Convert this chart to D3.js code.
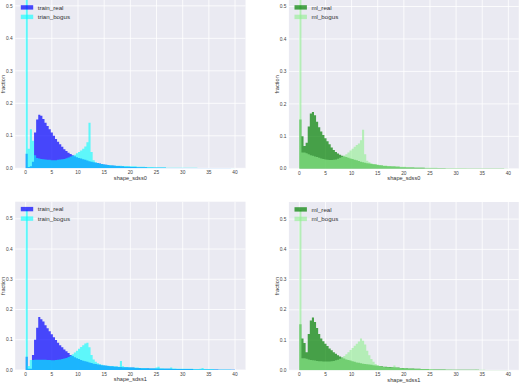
<!DOCTYPE html>
<html>
<head>
<meta charset="utf-8">
<script src="https://cdn.jsdelivr.net/npm/d3@7"></script>
<style>
  body { margin: 0; background: #fff; }
  svg { display: block; font-family: 'Liberation Sans', Arial, sans-serif; }
</style>
</head>
<body>
<div id="chart"></div>
<script>
// histogram bins: 100 bins of 0.4 from 0 to 40
const binWidth = 0.4;
const xTicks = [0, 5, 10, 15, 20, 25, 30, 35, 40];
const yTicks = [0, 0.1, 0.2, 0.3, 0.4, 0.5];

// shape_sdss0 - train set
const trainReal0 = [
  0.045, 0.004, 0.006, 0.02, 0.11, 0.15, 0.165, 0.162, 0.152, 0.14,
  0.13, 0.12, 0.11, 0.1, 0.09, 0.082, 0.074, 0.066, 0.059, 0.053,
  0.048, 0.044, 0.04, 0.037, 0.034, 0.032, 0.03, 0.028, 0.026, 0.024,
  0.022, 0.02, 0.019, 0.017, 0.016, 0.015, 0.013, 0.012, 0.011, 0.01,
  0.009, 0.009, 0.008, 0.007, 0.007, 0.006, 0.006, 0.005, 0.005, 0.005,
  0.004, 0.004, 0.004, 0.003, 0.003, 0.003, 0.003, 0.003, 0.002, 0.002,
  0.002, 0.002, 0.002, 0.002, 0.002, 0.002, 0.002, 0.001, 0.001, 0.001,
  0.001, 0.001, 0.001, 0.001, 0.001, 0.001, 0.001, 0.001, 0.001, 0.001,
  0.001, 0.001, 0.001, 0.001, 0.001, 0.001, 0.001, 0.001, 0.001, 0.001,
  0.001, 0.001, 0.001, 0.001, 0.001, 0.001, 0.001, 0.001, 0.0005, 0.0005,
];
const trainBogus0 = [
  0.53, 0.06, 0.12, 0.085, 0.04, 0.032, 0.03, 0.029, 0.028, 0.027,
  0.026, 0.026, 0.025, 0.025, 0.025, 0.026, 0.027, 0.028, 0.029, 0.031,
  0.033, 0.036, 0.039, 0.042, 0.046, 0.05, 0.055, 0.06, 0.067, 0.08,
  0.14, 0.05, 0.025, 0.019, 0.016, 0.014, 0.013, 0.012, 0.011, 0.01,
  0.01, 0.009, 0.009, 0.008, 0.008, 0.008, 0.007, 0.007, 0.007, 0.006,
  0.006, 0.006, 0.006, 0.005, 0.005, 0.005, 0.005, 0.004, 0.004, 0.004,
  0.004, 0.003, 0.003, 0.003, 0.003, 0.003, 0.003, 0.002, 0.002, 0.002,
  0.002, 0.002, 0.002, 0.002, 0.002, 0.002, 0.002, 0.002, 0.002, 0.002,
  0.002, 0.002, 0.001, 0.001, 0.001, 0.001, 0.001, 0.001, 0.001, 0.001,
  0.001, 0.001, 0.001, 0.001, 0.001, 0.001, 0.001, 0.001, 0.001, 0.001,
];

// shape_sdss0 - ml set
const mlReal0 = [
  0.152, 0.1, 0.07, 0.08, 0.13, 0.17, 0.175, 0.165, 0.145, 0.128,
  0.115, 0.104, 0.094, 0.085, 0.076, 0.066, 0.058, 0.052, 0.047, 0.043,
  0.04, 0.038, 0.036, 0.034, 0.032, 0.03, 0.028, 0.026, 0.024, 0.022,
  0.02, 0.019, 0.017, 0.016, 0.015, 0.014, 0.013, 0.012, 0.011, 0.01,
  0.009, 0.009, 0.008, 0.008, 0.007, 0.007, 0.006, 0.006, 0.005, 0.005,
  0.005, 0.004, 0.004, 0.004, 0.004, 0.003, 0.003, 0.003, 0.003, 0.003,
  0.002, 0.002, 0.002, 0.002, 0.002, 0.002, 0.002, 0.002, 0.002, 0.002,
  0.001, 0.001, 0.001, 0.001, 0.001, 0.001, 0.001, 0.001, 0.001, 0.001,
  0.001, 0.001, 0.001, 0.001, 0.001, 0.001, 0.001, 0.001, 0.001, 0.001,
  0.001, 0.001, 0.001, 0.001, 0.001, 0.001, 0.001, 0.001, 0.0005, 0.0005,
];
const mlBogus0 = [
  0.53, 0.05, 0.05, 0.048, 0.045, 0.042, 0.04, 0.038, 0.036, 0.034,
  0.032, 0.03, 0.029, 0.028, 0.027, 0.027, 0.028, 0.029, 0.031, 0.034,
  0.037, 0.041, 0.045, 0.05, 0.056, 0.062, 0.068, 0.073, 0.078, 0.088,
  0.12, 0.045, 0.025, 0.02, 0.017, 0.015, 0.014, 0.013, 0.012, 0.011,
  0.01, 0.01, 0.009, 0.009, 0.008, 0.008, 0.007, 0.007, 0.006, 0.006,
  0.006, 0.005, 0.005, 0.005, 0.005, 0.004, 0.004, 0.004, 0.004, 0.003,
  0.003, 0.003, 0.003, 0.003, 0.003, 0.003, 0.002, 0.002, 0.002, 0.002,
  0.002, 0.002, 0.002, 0.002, 0.002, 0.002, 0.002, 0.002, 0.002, 0.002,
  0.001, 0.001, 0.001, 0.001, 0.001, 0.001, 0.001, 0.001, 0.001, 0.001,
  0.001, 0.001, 0.001, 0.001, 0.001, 0.001, 0.001, 0.001, 0.001, 0.001,
];

// shape_sdss1 - train set
const trainReal1 = [
  0.044, 0.004, 0.004, 0.05, 0.1, 0.14, 0.175, 0.168, 0.16, 0.148,
  0.138, 0.128, 0.118, 0.108, 0.099, 0.09, 0.082, 0.075, 0.068, 0.062,
  0.056, 0.05, 0.046, 0.042, 0.039, 0.036, 0.033, 0.031, 0.029, 0.027,
  0.025, 0.023, 0.021, 0.02, 0.018, 0.017, 0.016, 0.015, 0.014, 0.013,
  0.012, 0.012, 0.011, 0.011, 0.01, 0.01, 0.009, 0.009, 0.009, 0.008,
  0.008, 0.008, 0.007, 0.007, 0.007, 0.006, 0.006, 0.006, 0.006, 0.005,
  0.005, 0.005, 0.005, 0.005, 0.004, 0.004, 0.004, 0.004, 0.004, 0.004,
  0.003, 0.003, 0.003, 0.003, 0.003, 0.003, 0.003, 0.003, 0.003, 0.003,
  0.002, 0.002, 0.002, 0.002, 0.002, 0.002, 0.002, 0.002, 0.002, 0.002,
  0.002, 0.002, 0.001, 0.001, 0.001, 0.001, 0.001, 0.001, 0.001, 0.001,
];
const trainBogus1 = [
  0.53, 0.013, 0.033, 0.033, 0.034, 0.034, 0.034, 0.034, 0.034, 0.034,
  0.033, 0.033, 0.032, 0.032, 0.033, 0.034, 0.035, 0.036, 0.038, 0.04,
  0.043, 0.047, 0.052, 0.058, 0.064, 0.07, 0.076, 0.082, 0.088, 0.09,
  0.075, 0.05, 0.035, 0.027, 0.022, 0.019, 0.017, 0.016, 0.015, 0.014,
  0.013, 0.013, 0.012, 0.012, 0.011, 0.03, 0.012, 0.01, 0.01, 0.009,
  0.009, 0.008, 0.008, 0.008, 0.007, 0.007, 0.007, 0.007, 0.006, 0.006,
  0.006, 0.006, 0.008, 0.011, 0.006, 0.006, 0.005, 0.005, 0.005, 0.008,
  0.005, 0.005, 0.004, 0.004, 0.004, 0.004, 0.004, 0.004, 0.004, 0.004,
  0.003, 0.003, 0.003, 0.004, 0.007, 0.003, 0.003, 0.003, 0.003, 0.003,
  0.002, 0.002, 0.002, 0.002, 0.002, 0.002, 0.002, 0.002, 0.001, 0.001,
];

// shape_sdss1 - ml set
const mlReal1 = [
  0.152, 0.105, 0.09, 0.06, 0.12, 0.165, 0.175, 0.16, 0.14, 0.12,
  0.105, 0.096, 0.088, 0.08, 0.072, 0.066, 0.06, 0.055, 0.05, 0.046,
  0.042, 0.039, 0.036, 0.034, 0.032, 0.03, 0.028, 0.026, 0.025, 0.023,
  0.022, 0.021, 0.02, 0.019, 0.018, 0.017, 0.016, 0.015, 0.014, 0.013,
  0.012, 0.012, 0.011, 0.011, 0.01, 0.01, 0.009, 0.009, 0.008, 0.008,
  0.007, 0.007, 0.006, 0.006, 0.006, 0.005, 0.005, 0.005, 0.004, 0.004,
  0.004, 0.004, 0.003, 0.003, 0.003, 0.003, 0.003, 0.003, 0.003, 0.003,
  0.002, 0.002, 0.002, 0.002, 0.002, 0.002, 0.002, 0.002, 0.002, 0.002,
  0.002, 0.002, 0.002, 0.002, 0.002, 0.002, 0.001, 0.001, 0.001, 0.001,
  0.001, 0.001, 0.001, 0.001, 0.001, 0.001, 0.001, 0.001, 0.001, 0.001,
];
const mlBogus1 = [
  0.53, 0.04, 0.04, 0.038, 0.036, 0.034, 0.033, 0.032, 0.031, 0.03,
  0.03, 0.029, 0.029, 0.029, 0.029, 0.03, 0.031, 0.033, 0.035, 0.038,
  0.042, 0.047, 0.053, 0.06, 0.067, 0.074, 0.081, 0.088, 0.095, 0.105,
  0.098, 0.085, 0.065, 0.05, 0.037, 0.028, 0.021, 0.017, 0.014, 0.012,
  0.011, 0.01, 0.01, 0.009, 0.009, 0.016, 0.009, 0.008, 0.008, 0.007,
  0.007, 0.006, 0.006, 0.006, 0.005, 0.005, 0.005, 0.005, 0.004, 0.004,
  0.004, 0.004, 0.004, 0.004, 0.003, 0.003, 0.003, 0.003, 0.003, 0.003,
  0.003, 0.003, 0.003, 0.002, 0.002, 0.002, 0.002, 0.002, 0.002, 0.002,
  0.002, 0.002, 0.002, 0.002, 0.003, 0.002, 0.002, 0.002, 0.002, 0.001,
  0.001, 0.001, 0.001, 0.001, 0.001, 0.001, 0.001, 0.001, 0.001, 0.001,
];

const width = 520;
const height = 383;

const panels = [
  { l: 15.2, r: 245.5, t: 0, b: 168.3, yMax: 0.518, xlabel: 'shape_sdss0',
    series: [
      { name: 'train_real', values: trainReal0, color: '#0000ff' },
      { name: 'trian_bogus', values: trainBogus0, color: '#00ffff' },
    ] },
  { l: 288.9, r: 518.8, t: 0, b: 168.8, yMax: 0.52, xlabel: 'shape_sdss0',
    series: [
      { name: 'ml_real', values: mlReal0, color: '#008000' },
      { name: 'ml_bogus', values: mlBogus0, color: '#90ee90' },
    ] },
  { l: 15.2, r: 245.5, t: 201.7, b: 370, yMax: 0.5565, xlabel: 'shape_sdss1',
    series: [
      { name: 'train_real', values: trainReal1, color: '#0000ff' },
      { name: 'train_bogus', values: trainBogus1, color: '#00ffff' },
    ] },
  { l: 288.9, r: 518.8, t: 202, b: 370.3, yMax: 0.5565, xlabel: 'shape_sdss1',
    series: [
      { name: 'ml_real', values: mlReal1, color: '#008000' },
      { name: 'ml_bogus', values: mlBogus1, color: '#90ee90' },
    ] },
];
const opacities = [0.7, 0.6];

const svg = d3
  .select('#chart')
  .append('svg')
  .attr('width', width)
  .attr('height', height);

panels.forEach((p, k) => {
  const x = d3.scaleLinear([-2, 42], [p.l, p.r]);
  const y = d3.scaleLinear([0, p.yMax], [p.b, p.t]);

  const g = svg.append('g');

  // axes background
  g.append('rect')
    .attr('x', p.l)
    .attr('y', p.t)
    .attr('width', p.r - p.l)
    .attr('height', p.b - p.t)
    .attr('fill', '#eaeaf2');

  g.append('clipPath')
    .attr('id', `clip${k}`)
    .append('rect')
    .attr('x', p.l)
    .attr('y', p.t)
    .attr('width', p.r - p.l)
    .attr('height', p.b - p.t);

  // grid lines
  g.selectAll('.vgrid')
    .data(xTicks)
    .join('line')
    .attr('x1', (d) => x(d))
    .attr('x2', (d) => x(d))
    .attr('y1', p.t)
    .attr('y2', p.b)
    .attr('stroke', '#fff')
    .attr('stroke-width', 0.8);
  g.selectAll('.hgrid')
    .data(yTicks)
    .join('line')
    .attr('x1', p.l)
    .attr('x2', p.r)
    .attr('y1', (d) => y(d))
    .attr('y2', (d) => y(d))
    .attr('stroke', '#fff')
    .attr('stroke-width', 0.8);

  // histograms as step areas
  const area = d3
    .area()
    .curve(d3.curveStepAfter)
    .x((d) => x(d[0]))
    .y0(y(0))
    .y1((d) => y(d[1]));

  const plot = g.append('g').attr('clip-path', `url(#clip${k})`);
  p.series.forEach((s, j) => {
    const pts = s.values.map((v, i) => [i * binWidth, v]);
    pts.push([s.values.length * binWidth, s.values[s.values.length - 1]]);
    plot.append('path')
      .attr('d', area(pts))
      .attr('fill', s.color)
      .attr('fill-opacity', opacities[j]);
  });

  // tick labels
  g.selectAll('.xtick')
    .data(xTicks)
    .join('text')
    .attr('x', (d) => x(d))
    .attr('y', p.b + 4.2)
    .attr('dy', '0.35em')
    .attr('text-anchor', 'middle')
    .attr('font-size', 4.8)
    .attr('fill', '#444')
    .text((d) => d);
  g.selectAll('.ytick')
    .data(yTicks)
    .join('text')
    .attr('x', p.l - 2.6)
    .attr('y', (d) => y(d))
    .attr('dy', '0.35em')
    .attr('text-anchor', 'end')
    .attr('font-size', 4.8)
    .attr('fill', '#444')
    .text((d) => d3.format('.1f')(d));

  // axis names
  g.append('text')
    .attr('x', (p.l + p.r) / 2)
    .attr('y', p.b + 9.4)
    .attr('dy', '0.35em')
    .attr('text-anchor', 'middle')
    .attr('font-size', 5.6)
    .attr('fill', '#333')
    .text(p.xlabel);
  g.append('text')
    .attr('transform', `translate(${p.l - 12.2}, ${(p.t + p.b) / 2}) rotate(-90)`)
    .attr('dy', '0.35em')
    .attr('text-anchor', 'middle')
    .attr('font-size', 5.6)
    .attr('fill', '#333')
    .text('fraction');

  // legend
  const lg = g.append('g');
  p.series.forEach((s, j) => {
    const cy = p.t + 7.4 + j * 9.5;
    lg.append('rect')
      .attr('x', p.l + 5.6)
      .attr('y', cy - 2.2)
      .attr('width', 12.4)
      .attr('height', 4.4)
      .attr('fill', s.color)
      .attr('fill-opacity', opacities[j]);
    lg.append('text')
      .attr('x', p.l + 22.5)
      .attr('y', cy)
      .attr('dy', '0.35em')
      .attr('font-size', 6.2)
      .attr('fill', '#333')
      .text(s.name);
  });
});
</script>
</body>
</html>
